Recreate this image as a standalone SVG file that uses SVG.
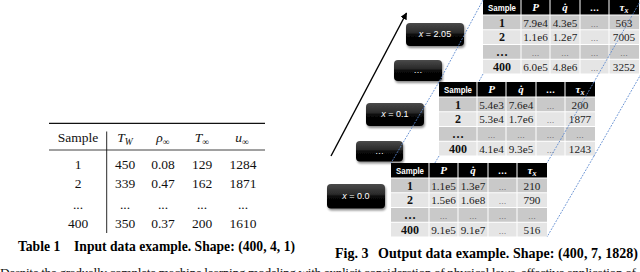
<svg xmlns="http://www.w3.org/2000/svg" width="640" height="272" viewBox="0 0 640 272">
<defs>
<linearGradient id="gloss" x1="0" y1="0" x2="0" y2="1">
<stop offset="0" stop-color="#4a4a4a"/>
<stop offset="0.42" stop-color="#2a2a2a"/>
<stop offset="0.5" stop-color="#080808"/>
<stop offset="1" stop-color="#000"/>
</linearGradient>
<filter id="shadow" x="-10%" y="-10%" width="130%" height="150%">
<feGaussianBlur in="SourceAlpha" stdDeviation="1"/>
<feOffset dx="1" dy="1.5" result="b"/>
<feComponentTransfer><feFuncA type="linear" slope="0.45"/></feComponentTransfer>
<feMerge><feMergeNode/><feMergeNode in="SourceGraphic"/></feMerge>
</filter>
<marker id="arrow" viewBox="0 0 10 10" refX="9" refY="5" markerWidth="5" markerHeight="5" orient="auto" markerUnits="strokeWidth">
<path d="M0,0 L10,5 L0,10 z" fill="#000"/>
</marker>
</defs>
<style>
.tt{font-family:"Liberation Serif","Times New Roman",serif;font-size:13.5px;fill:#111;text-anchor:middle}
.cap{font-family:"Liberation Serif","Times New Roman",serif;font-weight:bold;fill:#000}
.body{font-family:"Liberation Serif","Times New Roman",serif;font-size:13.5px;fill:#111}
.hd{fill:#000}
.r1{fill:#c9c9c9}
.r2{fill:#e5e5e5}
.ht{font-family:"Liberation Sans",Arial,sans-serif;font-weight:bold;font-size:9.5px;fill:#fff;text-anchor:middle}
.hs{font-family:"Liberation Serif","Times New Roman",serif;font-weight:bold;font-style:italic;font-size:11px;fill:#fff;text-anchor:middle}
.cn{font-family:"Liberation Serif","Times New Roman",serif;font-weight:bold;font-size:12px;fill:#111;text-anchor:middle}
.cv{font-family:"Liberation Serif","Times New Roman",serif;font-size:11.2px;fill:#222;text-anchor:middle}
.cd{font-family:"Liberation Sans",Arial,sans-serif;font-size:8px;fill:#444;text-anchor:middle}
.lab{font-family:"Liberation Sans",Arial,sans-serif;font-size:9px;fill:#fff;text-anchor:middle}
.box{fill:url(#gloss);filter:url(#shadow)}
.dash{fill:none;stroke:#5a88cf;stroke-width:0.9;stroke-dasharray:1.8 1.3}
.rule{stroke:#111}
</style>
<rect width="640" height="272" fill="#fff"/>

<g id="table1">
<line class="rule" x1="49" y1="123.3" x2="265" y2="123.3" stroke-width="1.3"/>
<line class="rule" x1="49" y1="150" x2="265" y2="150" stroke-width="0.8"/>
<line class="rule" x1="106.7" y1="131.5" x2="106.7" y2="233" stroke-width="0.9"/>
<text class="tt" x="78" y="142">Sample</text>
<text class="tt" x="125" y="142"><tspan font-style="italic">T</tspan><tspan font-style="italic" font-size="9.5px" dy="2.5">W</tspan></text>
<text class="tt" x="163" y="142"><tspan font-style="italic">ρ</tspan><tspan font-size="9.5px" dy="2.5">∞</tspan></text>
<text class="tt" x="202" y="142"><tspan font-style="italic">T</tspan><tspan font-size="9.5px" dy="2.5">∞</tspan></text>
<text class="tt" x="242" y="142"><tspan font-style="italic">u</tspan><tspan font-size="9.5px" dy="2.5">∞</tspan></text>
<text class="tt" x="78" y="169">1</text><text class="tt" x="125" y="169">450</text><text class="tt" x="163" y="169">0.08</text><text class="tt" x="202" y="169">129</text><text class="tt" x="243" y="169">1284</text>
<text class="tt" x="78" y="188">2</text><text class="tt" x="125" y="188">339</text><text class="tt" x="163" y="188">0.47</text><text class="tt" x="202" y="188">162</text><text class="tt" x="243" y="188">1871</text>
<text class="tt" x="78" y="208.5">...</text><text class="tt" x="125" y="208.5">...</text><text class="tt" x="163" y="208.5">...</text><text class="tt" x="202" y="208.5">...</text><text class="tt" x="243" y="208.5">...</text>
<text class="tt" x="78" y="228">400</text><text class="tt" x="125" y="228">350</text><text class="tt" x="163" y="228">0.37</text><text class="tt" x="202" y="228">200</text><text class="tt" x="243" y="228">1610</text>
<text class="cap" x="18" y="251" font-size="13.6px">Table 1</text>
<text class="cap" x="74" y="251" font-size="13.6px" textLength="221" lengthAdjust="spacing">Input data example. Shape: (400, 4, 1)</text>
</g>

<g id="tableA">
<rect class="hd" x="483" y="0" width="156" height="14.5"/>
<g fill="#fff"><rect x="520.5" y="0" width="1" height="15"/><rect x="549.5" y="0" width="1" height="15"/><rect x="579.5" y="0" width="1" height="15"/><rect x="608.5" y="0" width="1" height="15"/></g>
<g class="r1"><rect x="483" y="15.5" width="37.5" height="13.75"/><rect x="521.5" y="15.5" width="28" height="13.75"/><rect x="550.5" y="15.5" width="29" height="13.75"/><rect x="580.5" y="15.5" width="28" height="13.75"/><rect x="609.5" y="15.5" width="29.5" height="13.75"/></g>
<g class="r2"><rect x="483" y="30.25" width="37.5" height="13.75"/><rect x="521.5" y="30.25" width="28" height="13.75"/><rect x="550.5" y="30.25" width="29" height="13.75"/><rect x="580.5" y="30.25" width="28" height="13.75"/><rect x="609.5" y="30.25" width="29.5" height="13.75"/></g>
<g class="r1"><rect x="483" y="45" width="37.5" height="13.75"/><rect x="521.5" y="45" width="28" height="13.75"/><rect x="550.5" y="45" width="29" height="13.75"/><rect x="580.5" y="45" width="28" height="13.75"/><rect x="609.5" y="45" width="29.5" height="13.75"/></g>
<g class="r2"><rect x="483" y="59.75" width="37.5" height="13.75"/><rect x="521.5" y="59.75" width="28" height="13.75"/><rect x="550.5" y="59.75" width="29" height="13.75"/><rect x="580.5" y="59.75" width="28" height="13.75"/><rect x="609.5" y="59.75" width="29.5" height="13.75"/></g>
<text class="ht" x="502" y="11" textLength="28" lengthAdjust="spacingAndGlyphs">Sample</text>
<text class="hs" x="535.5" y="11">P</text>
<text class="hs" x="565" y="11">q̇</text>
<text class="ht" x="594.5" y="11">…</text>
<text class="hs" x="624" y="11">τ<tspan font-size="8px" dy="2">x</tspan></text>
<text class="cn" x="502" y="26.5">1</text><text class="cv" x="535.5" y="26.5">7.9e4</text><text class="cv" x="565" y="26.5">4.3e5</text><text class="cd" x="594.5" y="26.5">…</text><text class="cv" x="624" y="26.5">563</text>
<text class="cn" x="502" y="41.2">2</text><text class="cv" x="535.5" y="41.2">1.1e6</text><text class="cv" x="565" y="41.2">1.2e7</text><text class="cd" x="594.5" y="41.2">…</text><text class="cv" x="624" y="41.2">7005</text>
<text class="cn" x="502" y="55.5">…</text><text class="cd" x="535.5" y="55.5">…</text><text class="cd" x="565" y="55.5">…</text><text class="cd" x="594.5" y="55.5">…</text><text class="cd" x="624" y="55.5">…</text>
<text class="cn" x="502" y="70.7">400</text><text class="cv" x="535.5" y="70.7">6.0e5</text><text class="cv" x="565" y="70.7">4.8e6</text><text class="cd" x="594.5" y="70.7">…</text><text class="cv" x="624" y="70.7">3252</text>
</g>

<g id="tableB">
<rect class="hd" x="439" y="82" width="156" height="14.5"/>
<g fill="#fff"><rect x="476.5" y="82" width="1" height="15"/><rect x="505.5" y="82" width="1" height="15"/><rect x="535.5" y="82" width="1" height="15"/><rect x="564.5" y="82" width="1" height="15"/></g>
<g class="r1"><rect x="439" y="97.5" width="37.5" height="13.75"/><rect x="477.5" y="97.5" width="28" height="13.75"/><rect x="506.5" y="97.5" width="29" height="13.75"/><rect x="536.5" y="97.5" width="28" height="13.75"/><rect x="565.5" y="97.5" width="29.5" height="13.75"/></g>
<g class="r2"><rect x="439" y="112.25" width="37.5" height="13.75"/><rect x="477.5" y="112.25" width="28" height="13.75"/><rect x="506.5" y="112.25" width="29" height="13.75"/><rect x="536.5" y="112.25" width="28" height="13.75"/><rect x="565.5" y="112.25" width="29.5" height="13.75"/></g>
<g class="r1"><rect x="439" y="127" width="37.5" height="13.75"/><rect x="477.5" y="127" width="28" height="13.75"/><rect x="506.5" y="127" width="29" height="13.75"/><rect x="536.5" y="127" width="28" height="13.75"/><rect x="565.5" y="127" width="29.5" height="13.75"/></g>
<g class="r2"><rect x="439" y="141.75" width="37.5" height="13.75"/><rect x="477.5" y="141.75" width="28" height="13.75"/><rect x="506.5" y="141.75" width="29" height="13.75"/><rect x="536.5" y="141.75" width="28" height="13.75"/><rect x="565.5" y="141.75" width="29.5" height="13.75"/></g>
<text class="ht" x="458" y="93" textLength="28" lengthAdjust="spacingAndGlyphs">Sample</text>
<text class="hs" x="491.5" y="93">P</text>
<text class="hs" x="521" y="93">q̇</text>
<text class="ht" x="550.5" y="93">…</text>
<text class="hs" x="580" y="93">τ<tspan font-size="8px" dy="2">x</tspan></text>
<text class="cn" x="458" y="108.5">1</text><text class="cv" x="491.5" y="108.5">5.4e3</text><text class="cv" x="521" y="108.5">7.6e4</text><text class="cd" x="550.5" y="108.5">…</text><text class="cv" x="580" y="108.5">200</text>
<text class="cn" x="458" y="123.2">2</text><text class="cv" x="491.5" y="123.2">5.3e4</text><text class="cv" x="521" y="123.2">1.7e6</text><text class="cd" x="550.5" y="123.2">…</text><text class="cv" x="580" y="123.2">1877</text>
<text class="cn" x="458" y="137.5">…</text><text class="cd" x="491.5" y="137.5">…</text><text class="cd" x="521" y="137.5">…</text><text class="cd" x="550.5" y="137.5">…</text><text class="cd" x="580" y="137.5">…</text>
<text class="cn" x="458" y="152.7">400</text><text class="cv" x="491.5" y="152.7">4.1e4</text><text class="cv" x="521" y="152.7">9.3e5</text><text class="cd" x="550.5" y="152.7">…</text><text class="cv" x="580" y="152.7">1243</text>
</g>

<g id="label-x205"><rect class="box" x="406" y="23" width="58" height="23" rx="4"/><text class="lab" x="435" y="37"><tspan font-style="italic">x</tspan> = 2.05</text></g>
<g id="label-dots-upper"><rect class="box" x="394" y="60" width="48" height="21" rx="4"/><text class="lab" x="418" y="73">…</text></g>
<g id="label-x01"><rect class="box" x="366" y="103" width="58" height="23" rx="4"/><text class="lab" x="395" y="117"><tspan font-style="italic">x</tspan> = 0.1</text></g>
<g id="label-dots-lower"><rect class="box" x="356" y="141" width="47" height="20.5" rx="4"/><text class="lab" x="379.5" y="154">…</text></g>
<g id="label-x00"><rect class="box" x="327" y="184" width="58" height="24.5" rx="4"/><text class="lab" x="356" y="199"><tspan font-style="italic">x</tspan> = 0.0</text></g>

<g id="connectors">
<line x1="331" y1="156" x2="406.5" y2="13" stroke="#000" stroke-width="1.4" marker-end="url(#arrow)"/>
<line class="dash" x1="483" y1="0" x2="439" y2="82"/>
<line class="dash" x1="641" y1="0" x2="594" y2="82"/>
<line class="dash" x1="483" y1="74" x2="478.7" y2="82"/>
<line class="dash" x1="641" y1="74" x2="594" y2="156"/>
<line class="dash" x1="439" y1="82" x2="391" y2="163"/>
<line class="dash" x1="594" y1="82" x2="547" y2="163"/>
<line class="dash" x1="439" y1="156" x2="434.9" y2="163"/>
<line class="dash" x1="594" y1="156" x2="547" y2="237"/>
</g>

<g id="tableC">
<rect class="hd" x="391" y="163" width="156" height="14.5"/>
<g fill="#fff"><rect x="428.5" y="163" width="1" height="15"/><rect x="457.5" y="163" width="1" height="15"/><rect x="487.5" y="163" width="1" height="15"/><rect x="516.5" y="163" width="1" height="15"/></g>
<g class="r1"><rect x="391" y="178.5" width="37.5" height="13.75"/><rect x="429.5" y="178.5" width="28" height="13.75"/><rect x="458.5" y="178.5" width="29" height="13.75"/><rect x="488.5" y="178.5" width="28" height="13.75"/><rect x="517.5" y="178.5" width="29.5" height="13.75"/></g>
<g class="r2"><rect x="391" y="193.25" width="37.5" height="13.75"/><rect x="429.5" y="193.25" width="28" height="13.75"/><rect x="458.5" y="193.25" width="29" height="13.75"/><rect x="488.5" y="193.25" width="28" height="13.75"/><rect x="517.5" y="193.25" width="29.5" height="13.75"/></g>
<g class="r1"><rect x="391" y="208" width="37.5" height="13.75"/><rect x="429.5" y="208" width="28" height="13.75"/><rect x="458.5" y="208" width="29" height="13.75"/><rect x="488.5" y="208" width="28" height="13.75"/><rect x="517.5" y="208" width="29.5" height="13.75"/></g>
<g class="r2"><rect x="391" y="222.75" width="37.5" height="13.75"/><rect x="429.5" y="222.75" width="28" height="13.75"/><rect x="458.5" y="222.75" width="29" height="13.75"/><rect x="488.5" y="222.75" width="28" height="13.75"/><rect x="517.5" y="222.75" width="29.5" height="13.75"/></g>
<text class="ht" x="410" y="174" textLength="28" lengthAdjust="spacingAndGlyphs">Sample</text>
<text class="hs" x="443.5" y="174">P</text>
<text class="hs" x="473" y="174">q̇</text>
<text class="ht" x="502.5" y="174">…</text>
<text class="hs" x="532" y="174">τ<tspan font-size="8px" dy="2">x</tspan></text>
<text class="cn" x="410" y="189.5">1</text><text class="cv" x="443.5" y="189.5">1.1e5</text><text class="cv" x="473" y="189.5">1.3e7</text><text class="cd" x="502.5" y="189.5">…</text><text class="cv" x="532" y="189.5">210</text>
<text class="cn" x="410" y="204.2">2</text><text class="cv" x="443.5" y="204.2">1.5e6</text><text class="cv" x="473" y="204.2">1.6e8</text><text class="cd" x="502.5" y="204.2">…</text><text class="cv" x="532" y="204.2">790</text>
<text class="cn" x="410" y="218.5">…</text><text class="cd" x="443.5" y="218.5">…</text><text class="cd" x="473" y="218.5">…</text><text class="cd" x="502.5" y="218.5">…</text><text class="cd" x="532" y="218.5">…</text>
<text class="cn" x="410" y="233.7">400</text><text class="cv" x="443.5" y="233.7">9.1e5</text><text class="cv" x="473" y="233.7">9.1e7</text><text class="cd" x="502.5" y="233.7">…</text><text class="cv" x="532" y="233.7">516</text>
</g>

<g id="caption-fig3">
<text class="cap" x="335" y="257.5" font-size="14px">Fig. 3</text>
<text class="cap" x="378" y="257.5" font-size="14px" textLength="260" lengthAdjust="spacing">Output data example. Shape: (400, 7, 1828)</text>
</g>
<text class="body" x="0" y="277" textLength="636" lengthAdjust="spacing">Despite the gradually complete machine learning modeling with explicit consideration of physical laws, effective application of</text>
</svg>
